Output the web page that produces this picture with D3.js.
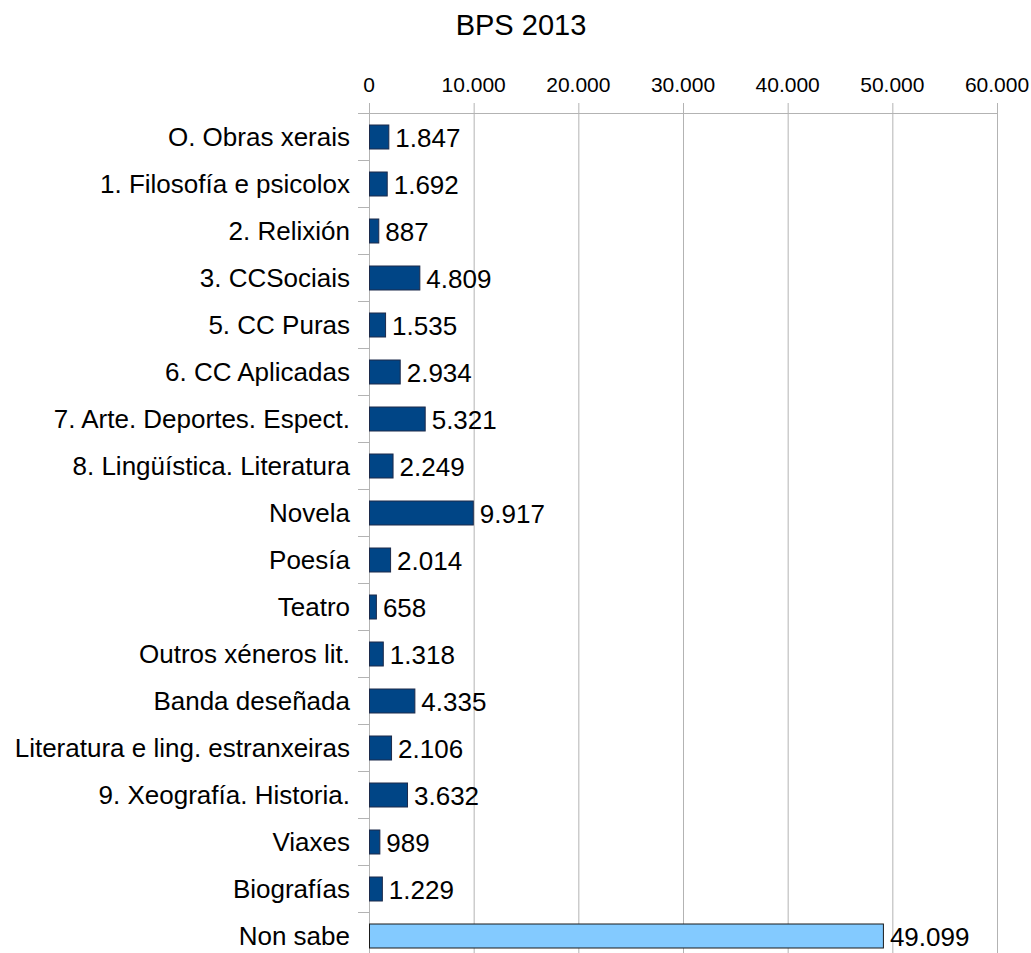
<!DOCTYPE html>
<html>
<head>
<meta charset="utf-8">
<script src="https://cdn.jsdelivr.net/npm/d3@7"></script>
<style>
  body { margin: 0; background: #fff; }
  svg { display: block; font-family: "Liberation Sans", Arial, sans-serif; }
</style>
</head>
<body>
<div id="wrapper"></div>
<script>
// categories, top to bottom
const categories = [
    "O. Obras xerais", "1. Filosofía e psicolox", "2. Relixión", "3. CCSociais",
    "5. CC Puras", "6. CC Aplicadas", "7. Arte. Deportes. Espect.",
    "8. Lingüística. Literatura", "Novela", "Poesía", "Teatro",
    "Outros xéneros lit.", "Banda deseñada", "Literatura e ling. estranxeiras",
    "9. Xeografía. Historia.", "Viaxes", "Biografías", "Non sabe"
]
const values = [1847, 1692, 887, 4809, 1535, 2934, 5321, 2249, 9917, 2014, 658,
    1318, 4335, 2106, 3632, 989, 1229, 49099]
const xTicks = [0, 10000, 20000, 30000, 40000, 50000, 60000]
const title = "BPS 2013"

const W = 1031, H = 953
const plotLeft = 369, plotRight = 997, plotTop = 113, band = 47
const plotBottom = plotTop + band * categories.length

const gal = d3.formatLocale({decimal: ",", thousands: ".", grouping: [3], currency: ["", ""]})
const fmt = gal.format(",d")

const svg = d3.select("#wrapper").append("svg")
    .attr("width", W)
    .attr("height", H)

const x = d3.scaleLinear().domain([0, 60000]).range([plotLeft, plotRight])
const y = d3.scaleBand().domain(categories).range([plotTop, plotBottom])

// title
svg.append("text")
    .attr("x", 521).attr("y", 35)
    .attr("text-anchor", "middle")
    .attr("font-size", 29)
    .text(title)

// gridlines + tick labels
svg.selectAll(".grid").data(xTicks).enter().append("line")
    .attr("x1", d => x(d) + 0.5).attr("x2", d => x(d) + 0.5)
    .attr("y1", plotTop - 10).attr("y2", plotBottom)
    .attr("stroke", "#b3b3b3").attr("stroke-width", 1)

svg.selectAll(".tlab").data(xTicks).enter().append("text")
    .attr("x", d => x(d)).attr("y", 92)
    .attr("text-anchor", "middle")
    .attr("font-size", 21)
    .text(d => fmt(d))

// top axis line
svg.append("line")
    .attr("x1", plotLeft - 11).attr("x2", plotRight + 0.5)
    .attr("y1", plotTop + 0.5).attr("y2", plotTop + 0.5)
    .attr("stroke", "#b3b3b3")

// category ticks
svg.selectAll(".ctick").data(categories.slice(1)).enter().append("line")
    .attr("x1", plotLeft - 11).attr("x2", plotLeft)
    .attr("y1", d => y(d) + 0.5).attr("y2", d => y(d) + 0.5)
    .attr("stroke", "#b3b3b3")

// category labels
svg.selectAll(".clab").data(categories).enter().append("text")
    .attr("x", plotLeft - 19)
    .attr("y", d => y(d) + band / 2)
    .attr("dy", "0.35em")
    .attr("text-anchor", "end")
    .attr("font-size", 26)
    .text(d => d)

// bars
const barH = 24
svg.selectAll(".bar").data(values).enter().append("rect")
    .attr("x", x(0) + 0.5)
    .attr("y", (d, i) => y(categories[i]) + (band - barH) / 2 + 0.5)
    .attr("width", d => x(d) - x(0))
    .attr("height", barH)
    .attr("fill", (d, i) => i == categories.length - 1 ? "#83caff" : "#004586")
    .attr("stroke", (d, i) => i == categories.length - 1 ? "#1a1a1a" : "#1c2a4a")
    .attr("stroke-width", 1)

// value labels
svg.selectAll(".vlab").data(values).enter().append("text")
    .attr("x", d => x(d) + 7)
    .attr("y", (d, i) => y(categories[i]) + band / 2 + 1)
    .attr("dy", "0.35em")
    .attr("font-size", 26)
    .text(d => fmt(d))
</script>
</body>
</html>
